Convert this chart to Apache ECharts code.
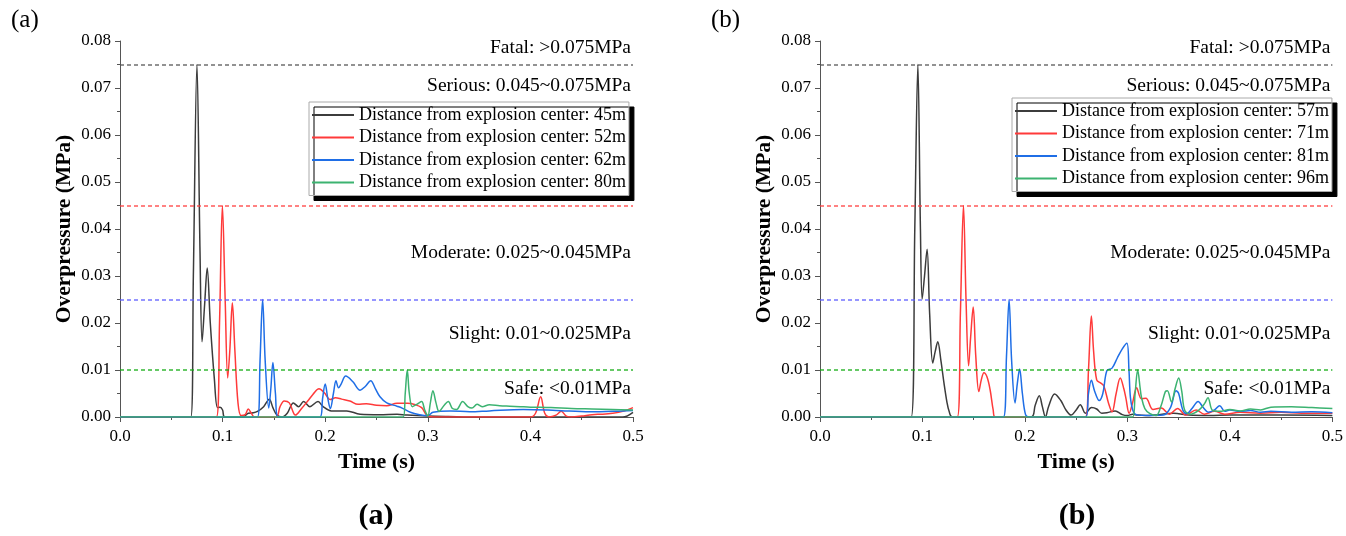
<!DOCTYPE html>
<html>
<head>
<meta charset="utf-8">
<script src="https://cdn.jsdelivr.net/npm/echarts@6.0.0/dist/echarts.min.js"></script>
<style>
  html, body { margin: 0; padding: 0; background: #fff; }
  #main { width: 1346px; height: 536px; }
</style>
</head>
<body>
<div id="main"></div>
<script>
// ---- data: [time (s), overpressure (MPa)] ----
var a45 = [[0,0],[0.069,0],[0.0715,0.03],[0.075,0.075],[0.078,0.035],[0.080,0.016],[0.0825,0.024],[0.085,0.0317],[0.088,0.02],[0.092,0.008],[0.095,0.002],[0.0975,0.0021],[0.1,0.0015],[0.102,0],[0.12,0],[0.125,0.0008],[0.13,0.0009],[0.134,0.0012],[0.14,0.0022],[0.1455,0.0038],[0.149,0.002],[0.153,0.0004],[0.158,0],[0.163,0.0008],[0.169,0.003],[0.174,0.0022],[0.179,0.0033],[0.185,0.0022],[0.193,0.0033],[0.198,0.0022],[0.206,0.0013],[0.221,0.0013],[0.234,0.0006],[0.253,0.0005],[0.27,0.0006],[0.28,0.0004],[0.3,0.0002],[0.32,0.0001],[0.35,0],[0.49,0],[0.5,0.001]];
var a52 = [[0,0],[0.094,0],[0.097,0.02],[0.0998,0.045],[0.1025,0.025],[0.105,0.0083],[0.107,0.014],[0.1095,0.0243],[0.112,0.014],[0.115,0.003],[0.118,0.0003],[0.122,0.0005],[0.125,0.0017],[0.128,0.0008],[0.131,0],[0.152,0],[0.156,0.0022],[0.16,0.0034],[0.165,0.003],[0.171,0.0004],[0.177,0.0018],[0.183,0.0034],[0.188,0.0048],[0.194,0.006],[0.199,0.0052],[0.205,0.0037],[0.21,0.0041],[0.216,0.0038],[0.224,0.0034],[0.232,0.0027],[0.24,0.0028],[0.25,0.0025],[0.26,0.0024],[0.27,0.0029],[0.28,0.0029],[0.288,0.0026],[0.294,0.002],[0.299,0.0004],[0.305,0],[0.4,0],[0.405,0.0008],[0.41,0.0043],[0.414,0.0008],[0.418,0],[0.425,0.0004],[0.43,0.0012],[0.435,0.0002],[0.44,0],[0.45,0.0002],[0.46,0.0005],[0.47,0.0006],[0.48,0.0008],[0.49,0.0012],[0.5,0.002]];
var a62 = [[0,0],[0.134,0],[0.1365,0.012],[0.139,0.025],[0.1415,0.012],[0.145,0.0019],[0.147,0.006],[0.149,0.0116],[0.1515,0.005],[0.154,0],[0.195,0],[0.1975,0.004],[0.2,0.007],[0.2025,0.004],[0.205,0.0018],[0.208,0.005],[0.2105,0.0077],[0.213,0.0062],[0.2155,0.007],[0.22,0.0087],[0.227,0.0075],[0.234,0.0057],[0.239,0.0065],[0.2443,0.0077],[0.249,0.006],[0.2534,0.0043],[0.26,0.003],[0.27,0.0023],[0.275,0.0019],[0.283,0.001],[0.292,0.0005],[0.3,0.0003],[0.305,0.001],[0.322,0.0013],[0.341,0.0011],[0.36,0.0013],[0.393,0.0016],[0.425,0.0014],[0.458,0.0011],[0.49,0.0013],[0.5,0.0014]];
var a80 = [[0,0],[0.276,0],[0.278,0.005],[0.28,0.01],[0.282,0.005],[0.285,0.0022],[0.29,0.0028],[0.294,0.0033],[0.297,0.0015],[0.3,0.0002],[0.3025,0.003],[0.305,0.0056],[0.308,0.003],[0.311,0.0012],[0.316,0.0025],[0.32,0.0033],[0.324,0.0018],[0.328,0.0016],[0.334,0.0033],[0.339,0.0022],[0.343,0.0019],[0.348,0.0027],[0.353,0.0022],[0.36,0.0026],[0.37,0.0024],[0.38,0.0023],[0.39,0.0022],[0.4,0.0021],[0.42,0.002],[0.44,0.0018],[0.46,0.0017],[0.48,0.0016],[0.5,0.0015]];

var b57 = [[0,0],[0.089,0],[0.0925,0.04],[0.0955,0.075],[0.098,0.04],[0.0997,0.0251],[0.102,0.03],[0.1045,0.0357],[0.107,0.022],[0.110,0.0115],[0.1125,0.014],[0.1149,0.016],[0.118,0.012],[0.121,0.0072],[0.124,0.003],[0.126,0.0012],[0.129,0],[0.206,0],[0.21,0.0025],[0.214,0.0045],[0.217,0.0022],[0.22,0],[0.223,0.0022],[0.229,0.0049],[0.235,0.0035],[0.24,0.0015],[0.245,0.0004],[0.25,0.0015],[0.254,0.0026],[0.259,0.0008],[0.265,0.002],[0.27,0.0017],[0.275,0.0008],[0.28,0.0009],[0.288,0.0013],[0.295,0.0005],[0.3,0.0003],[0.305,0.0006],[0.31,0.0004],[0.318,0.0003],[0.33,0.0005],[0.345,0.0008],[0.36,0.0004],[0.38,0.0003],[0.4,0.0004],[0.45,0.0004],[0.5,0.0003]];
var b71 = [[0,0],[0.134,0],[0.137,0.022],[0.14,0.045],[0.1425,0.025],[0.145,0.0109],[0.147,0.017],[0.1495,0.0234],[0.152,0.013],[0.155,0.0054],[0.1575,0.008],[0.16,0.0094],[0.163,0.0085],[0.166,0.0058],[0.169,0.0015],[0.171,0],[0.259,0],[0.262,0.01],[0.2648,0.0215],[0.267,0.014],[0.27,0.0079],[0.274,0.0072],[0.277,0.0066],[0.2815,0.003],[0.285,0.0011],[0.289,0.005],[0.293,0.0083],[0.2965,0.006],[0.2985,0.004],[0.3017,0.0008],[0.305,0.003],[0.309,0.0062],[0.3136,0.0039],[0.318,0.004],[0.325,0.0016],[0.333,0.0019],[0.341,0.0006],[0.349,0.0018],[0.357,0.0004],[0.367,0.0015],[0.375,0.0006],[0.385,0.0012],[0.395,0.0006],[0.41,0.001],[0.43,0.0008],[0.45,0.001],[0.47,0.0008],[0.5,0.0008]];
var b81 = [[0,0],[0.179,0],[0.182,0.013],[0.1845,0.025],[0.187,0.012],[0.1903,0.003],[0.1925,0.007],[0.1948,0.0102],[0.1975,0.005],[0.2006,0.0005],[0.204,0],[0.2595,0],[0.262,0.005],[0.2648,0.0078],[0.268,0.0055],[0.2725,0.0035],[0.276,0.005],[0.28,0.0099],[0.285,0.0104],[0.29,0.0125],[0.295,0.0145],[0.2995,0.0157],[0.3015,0.01],[0.303,0.004],[0.306,0.001],[0.31,0.0004],[0.32,0.0003],[0.335,0.0004],[0.342,0.002],[0.3475,0.0056],[0.35,0.005],[0.354,0.0015],[0.358,0.0007],[0.363,0.0018],[0.369,0.0033],[0.374,0.002],[0.379,0.001],[0.385,0.0015],[0.39,0.0024],[0.395,0.0012],[0.4,0.0015],[0.41,0.0012],[0.42,0.0014],[0.43,0.001],[0.44,0.0012],[0.46,0.001],[0.48,0.0011],[0.5,0.0009]];
var b96 = [[0,0],[0.305,0],[0.3075,0.005],[0.31,0.01],[0.3125,0.006],[0.3136,0.0043],[0.317,0.0018],[0.322,0.0007],[0.328,0.0003],[0.333,0.0025],[0.337,0.0054],[0.339,0.0056],[0.343,0.0032],[0.3465,0.006],[0.35,0.0083],[0.353,0.0055],[0.356,0.0014],[0.362,0.0006],[0.37,0.0015],[0.3754,0.0029],[0.3786,0.0041],[0.383,0.0014],[0.39,0.0012],[0.4,0.0016],[0.41,0.0013],[0.42,0.0017],[0.43,0.0015],[0.44,0.0021],[0.46,0.0022],[0.48,0.002],[0.5,0.0018]];

var namesA = ['Distance from explosion center: 45m', 'Distance from explosion center: 52m', 'Distance from explosion center: 62m', 'Distance from explosion center: 80m'];
var namesB = ['Distance from explosion center: 57m', 'Distance from explosion center: 71m', 'Distance from explosion center: 81m', 'Distance from explosion center: 96m'];
var lineColors = ['#3c3c3c', '#ff3a3a', '#1f6ee6', '#3cb371'];

// damage thresholds and zone labels
var thresholds = [0.075, 0.045, 0.025, 0.01];
var thresholdColors = ['#555555', '#ff3c3c', '#5a5aff', '#11aa11'];
var zoneNames = ['Fatal: >0.075MPa', 'Serious: 0.045~0.075MPa', 'Moderate: 0.025~0.045MPa', 'Slight: 0.01~0.025MPa', 'Safe: <0.01MPa'];
var zoneLabelY = [0.0785, 0.0705, 0.0349, 0.0177, 0.006];

var serif = "'Times New Roman', 'Liberation Serif', serif";

function xAxisFor(i) {
  return {
    gridIndex: i, type: 'value', min: 0, max: 0.5, interval: 0.1,
    name: 'Time (s)', nameLocation: 'middle', nameGap: 34,
    nameTextStyle: { fontFamily: serif, fontWeight: 'bold', fontSize: 22, color: '#000' },
    axisLine: { lineStyle: { color: '#555', width: 1 } },
    axisTick: { inside: false, length: 5, lineStyle: { color: '#555' } },
    minorTick: { show: true, splitNumber: 2, length: 3, lineStyle: { color: '#555' } },
    axisLabel: { fontFamily: serif, fontSize: 17, color: '#000', margin: 11,
      formatter: function (v) { return v.toFixed(1); } },
    splitLine: { show: false }
  };
}
function yAxisFor(i) {
  return {
    gridIndex: i, type: 'value', min: 0, max: 0.08, interval: 0.01,
    name: 'Overpressure (MPa)', nameLocation: 'middle', nameGap: 45, nameRotate: 90,
    nameTextStyle: { fontFamily: serif, fontWeight: 'bold', fontSize: 21.5, color: '#000' },
    axisLine: { show: true, lineStyle: { color: '#555', width: 1 } },
    axisTick: { show: true, inside: false, length: 5, lineStyle: { color: '#555' } },
    minorTick: { show: true, splitNumber: 2, length: 3, lineStyle: { color: '#555' } },
    axisLabel: { fontFamily: serif, fontSize: 17, color: '#000', margin: 9,
      formatter: function (v) { return v.toFixed(2); } },
    splitLine: { show: false }
  };
}

function panelSeries(i, datas, names) {
  var out = [{
    type: 'scatter', xAxisIndex: i, yAxisIndex: i, silent: true,
    symbolSize: 0, itemStyle: { color: '#fff', opacity: 1 },
    data: zoneLabelY.map(function (y) { return [0.5, y]; }),
    label: { show: true, position: 'left', distance: 2, color: '#000', opacity: 1,
      fontFamily: serif, fontSize: 19.5,
      formatter: function (p) { return zoneNames[p.dataIndex]; } },
    markLine: {
      silent: true, symbol: 'none', precision: 4, label: { show: false }, animation: false,
      data: thresholds.map(function (v, k) {
        return { yAxis: v, lineStyle: { color: thresholdColors[k], type: [4, 3], width: 1.5, opacity: 0.85 } };
      })
    }
  }];
  datas.forEach(function (d, k) {
    out.push({
      name: names[k], type: 'line', xAxisIndex: i, yAxisIndex: i,
      data: d, showSymbol: false, smooth: 0.35,
      lineStyle: { color: lineColors[k], width: 1.5 },
      itemStyle: { color: lineColors[k] }
    });
  });
  return out;
}

function legendFor(names, left, top) {
  return {
    data: names, orient: 'vertical', left: left, top: top,
    icon: 'rect', itemWidth: 42, itemHeight: 2, itemGap: 4.5,
    padding: [4, 3, 4, 3],
    backgroundColor: '#fff', borderColor: '#aaa', borderWidth: 1,
    shadowColor: '#000', shadowBlur: 0, shadowOffsetX: 5, shadowOffsetY: 5,
    textStyle: { fontFamily: serif, fontSize: 18, color: '#000' },
    selectedMode: false
  };
}

var chart = echarts.init(document.getElementById('main'));
chart.setOption({
  animation: false,
  backgroundColor: '#fff',
  grid: [
    { left: 120, top: 41, width: 513, height: 376 },
    { left: 820, top: 41, width: 515, height: 376 }
  ],
  xAxis: [xAxisFor(0), xAxisFor(1)],
  yAxis: [yAxisFor(0), yAxisFor(1)],
  legend: [legendFor(namesA, 309, 102), legendFor(namesB, 1012, 98)],
  graphic: [
    { type: 'text', left: 11, top: 8, style: { text: '(a)', font: '25px ' + serif, fill: '#000' } },
    { type: 'text', left: 711, top: 8, style: { text: '(b)', font: '25px ' + serif, fill: '#000' } },
    { type: 'text', x: 376, y: 501, style: { text: '(a)', font: 'bold 30px ' + serif, fill: '#000', textAlign: 'center' } },
    { type: 'text', x: 1077, y: 501, style: { text: '(b)', font: 'bold 30px ' + serif, fill: '#000', textAlign: 'center' } }
  ],
  series: panelSeries(0, [a45, a52, a62, a80], namesA)
    .concat(panelSeries(1, [b57, b71, b81, b96], namesB))
});
</script>
</body>
</html>
